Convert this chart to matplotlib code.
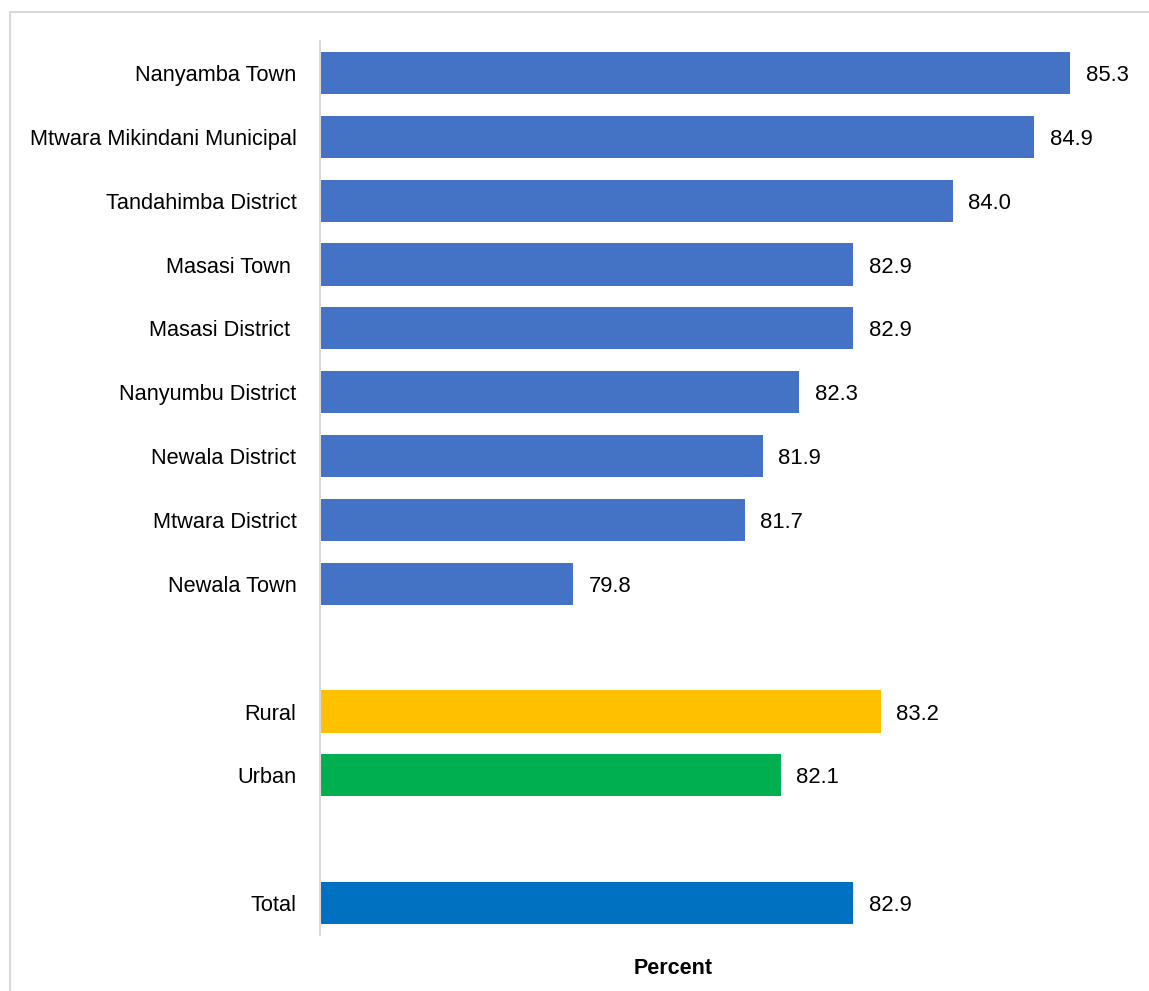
import matplotlib.pyplot as plt
import matplotlib.patches as mpatches

plt.rcParams["font.family"] = ["Liberation Sans", "DejaVu Sans"]

# Data
districts = [
    "Nanyamba Town",
    "Mtwara Mikindani Municipal",
    "Tandahimba District",
    "Masasi Town ",
    "Masasi District ",
    "Nanyumbu District",
    "Newala District",
    "Mtwara District",
    "Newala Town",
]
district_values = [85.3, 84.9, 84.0, 82.9, 82.9, 82.3, 81.9, 81.7, 79.8]
area_labels = ["Rural", "Urban"]
area_values = [83.2, 82.1]
total_label = "Total"
total_value = 82.9

# slot positions (blank rows between groups)
labels = districts + area_labels + [total_label]
values = district_values + area_values + [total_value]
positions = list(range(len(districts))) + [10, 11] + [13]
colors = ["#4472C4"] * len(districts) + ["#FFC000", "#00B050"] + ["#0070C0"]

fig = plt.figure(figsize=(11.49, 9.91), dpi=100)
ax = fig.add_axes([320 / 1149, 1 - 935 / 991, (1140 - 320) / 1149, (935 - 41) / 991])

X0 = 77.0
ax.barh(positions, [v - X0 for v in values], left=X0, height=0.66, color=colors)
for p, v in zip(positions, values):
    ax.text(v + 0.17, p, f"{v:.1f}", va="center_baseline", ha="left", fontsize=15.8)

ax.set_xlim(X0, 86.07)
ax.set_ylim(13.5, -0.5)
ax.set_yticks(positions)
ax.set_yticklabels(labels, fontsize=15.7, va="center_baseline")
ax.tick_params(axis="y", length=0, pad=17)
ax.set_xticks([])
for s in ["top", "right", "bottom"]:
    ax.spines[s].set_visible(False)
ax.spines["left"].set_color("#D9D9D9")
ax.spines["left"].set_linewidth(1.5)

fig.text(673 / 1149, 1 - 968 / 991, "Percent", ha="center", va="center",
         fontsize=15.5, fontweight="bold")

# outer chart border
fig.patches.append(mpatches.Rectangle((10 / 1149, -0.1), 1.2, 1 - 12 / 991 + 0.1,
                                      transform=fig.transFigure, fill=False,
                                      edgecolor="#D9D9D9", linewidth=1.5))

fig.savefig("out.png", dpi=100)
